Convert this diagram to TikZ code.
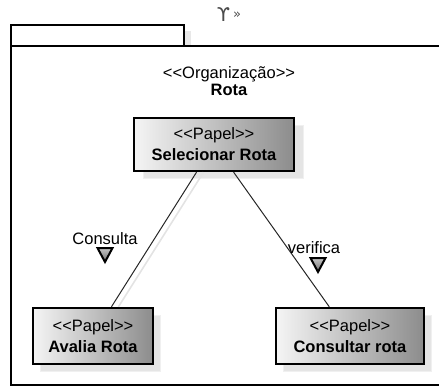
\documentclass[tikz,border=0pt]{standalone}
\usepackage{fontspec}
\setmainfont{Liberation Sans}
\newfontfamily\djv{DejaVu Sans}
\newcommand\stL{<\kern0pt<}
\newcommand\stR{>\kern0pt>}
\begin{document}
\begin{tikzpicture}[x=1pt,y=-1pt,
  role/.style={draw=black, line width=2.4pt, left color=black!4, right color=black!45,
    minimum height=56pt, inner sep=0pt, align=center,
    font=\fontsize{16.5}{21}\selectfont, text depth=-5pt},
  shadowbox/.style={fill=gray!20, draw=gray!12, line width=1pt},
  pkg/.style={draw=black, line width=2pt},
  conn/.style={draw=black!85, line width=1pt},
  connshadow/.style={draw=gray!22, line width=1.6pt},
  lbl/.style={font=\fontsize{16.5}{17.5}\selectfont, inner sep=0pt},
  marker/.style={draw=black, line width=2pt, top color=gray!45, bottom color=gray!85!black, line join=miter}
]
\useasboundingbox (0,0) rectangle (439,390);

% top icon text
\node[text=gray!60!black, inner sep=0pt, anchor=base] (icon) at (229,22) {{\djv\fontsize{19}{20}\selectfont ϒ}\kern3pt{\djv\fontsize{13}{14}\selectfont\raisebox{3pt}{»}}};

% package
\fill[gray!18] (185,31) rectangle (191,46);
\draw[pkg] (11,25) rectangle (184,46);
\draw[pkg] (439,46) -- (11,46) -- (11,385) -- (439,385);
\node[lbl, align=center] (pkgname) at (229,81) {\stL Organização\stR\\\textbf{Rota}};

% shadows
\fill[shadowbox] (143,126) rectangle (303,179);
\fill[shadowbox] (40,315) rectangle (160,371);
\fill[shadowbox] (283,315) rectangle (431,371);

\node[role, minimum width=160pt, minimum height=53pt] (sel) at (214,144.5) {\stL Papel\stR\\\textbf{Selecionar Rota}};
\node[role, minimum width=120pt] (ava) at (93,336) {\stL Papel\stR\\\textbf{Avalia Rota}};
\node[role, minimum width=148pt] (con) at (350,336) {\stL Papel\stR\\\textbf{Consultar rota}};

% connectors
\draw[connshadow, transform canvas={xshift=7pt}] (sel) -- (ava);
\draw[conn] (sel) -- (ava);
\draw[conn] (sel) -- (con);

% labels and markers
\node[lbl, anchor=base] (l1) at (105,244) {Consulta};
\node[lbl, anchor=base] (l2) at (314,253) {verifica};
\draw[marker] (97.5,248) -- (112.5,248) -- (105,262) -- cycle;
\draw[marker] (310.5,258) -- (325.5,258) -- (318,272) -- cycle;
\end{tikzpicture}
\end{document}
